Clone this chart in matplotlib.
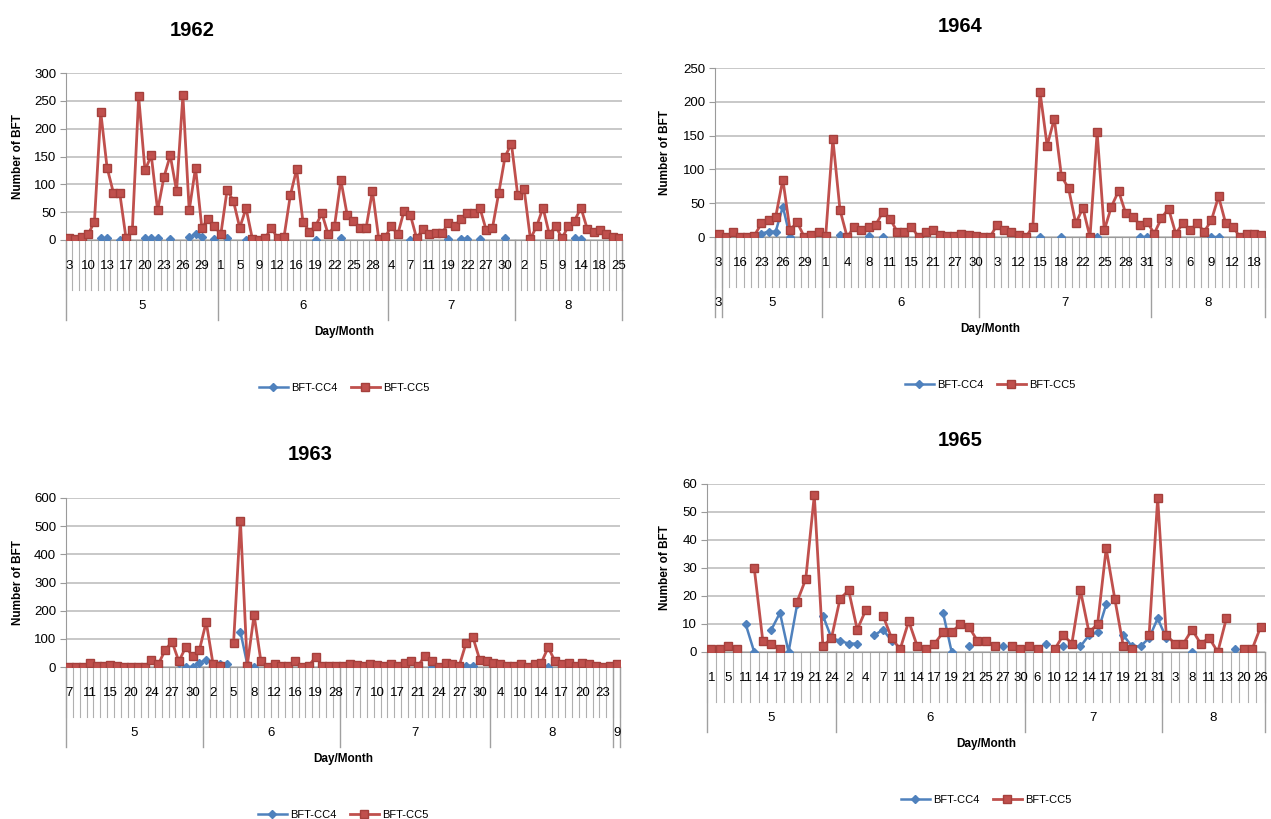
import matplotlib
matplotlib.use("Agg")
import numpy as np
import matplotlib.pyplot as plt
from matplotlib.transforms import offset_copy

nan = np.nan
W, H = 1271, 819
BLUE = '#4F81BD'
RED = '#C0504D'
GRID = '#C4C4C4'

plt.rcParams['font.family'] = ['Liberation Sans', 'DejaVu Sans']

# ---- 1962 ----
months_62 = [5, 6, 7, 8]
days_62 = [
    [3, 5, 7, 10, 11, 12, 13, 15, 16, 17, 18, 19, 20, 21, 22, 23, 24, 25, 26, 27, 28, 29, 30, 31],
    [1, 2, 4, 5, 6, 8, 9, 10, 11, 12, 14, 15, 16, 17, 18, 19, 20, 21, 22, 23, 24, 25, 26, 27, 28, 29, 30],
    [4, 5, 6, 7, 8, 9, 11, 13, 17, 19, 20, 21, 22, 24, 26, 27, 28, 29, 30, 31],
    [1, 2, 3, 4, 5, 7, 8, 9, 11, 13, 14, 16, 17, 18, 20, 22, 25],
]
cc5_62 = [3, 2, 6, 10, 33, 230, 130, 85, 85, 3, 18, 258, 125, 152, 53, 113, 152, 88, 260, 53, 130, 22, 38, 25,
          10, 90, 70, 22, 57, 2, 0, 3, 22, 3, 5, 80, 127, 33, 15, 25, 48, 10, 25, 108, 45, 35, 22, 22, 88, 2, 5,
          25, 10, 52, 45, 3, 20, 10, 12, 12, 30, 25, 38, 48, 48, 58, 18, 22, 85, 150, 173,
          80, 92, 2, 25, 58, 10, 25, 3, 25, 35, 58, 20, 15, 18, 10, 5, 3]
cc4_62 = [nan, nan, nan, nan, nan, 3, 3, nan, 0, 0, nan, nan, 3, 3, 3, nan, 1, nan, nan, 5, 10, 5, nan, 1,
          nan, 3, nan, nan, 0, nan, nan, nan, nan, nan, nan, nan, nan, nan, nan, 0, nan, nan, nan, 3, nan, nan,
          nan, nan, nan, nan, nan,
          nan, nan, nan, 0, nan, nan, nan, nan, nan, 2, nan, 2, 2, nan, 2, nan, nan, nan, 3, nan,
          nan, nan, 0, nan, nan, nan, nan, nan, nan, 3, 2, nan, nan, nan, nan, nan, nan]

# ---- 1964 ----
months_64 = [3, 5, 6, 7, 8]
days_64 = [
    [3],
    [9, 13, 16, 20, 21, 23, 24, 25, 26, 27, 28, 29, 30, 31],
    [1, 2, 3, 4, 5, 7, 8, 9, 10, 11, 12, 13, 15, 17, 19, 21, 23, 25, 27, 28, 29, 30],
    [1, 2, 3, 5, 8, 12, 13, 14, 15, 16, 17, 18, 19, 20, 22, 23, 24, 25, 26, 27, 28, 29, 30, 31],
    [1, 2, 3, 4, 5, 6, 7, 8, 9, 10, 11, 12, 14, 16, 18, 19],
]
cc5_64 = [5, 0, 7, 0, 0, 2, 20, 25, 30, 85, 10, 22, 0, 3, 7,
          2, 145, 40, 0, 15, 10, 15, 18, 37, 27, 8, 8, 15, 0, 8, 10, 3, 2, 2, 5, 3, 2,
          0, 0, 18, 10, 8, 3, 0, 15, 215, 135, 175, 90, 72, 20, 43, 0, 155, 10, 45, 68, 35, 30, 18, 22,
          5, 28, 42, 5, 20, 10, 20, 8, 25, 60, 20, 15, 0, 5, 5, 3]
cc4_64 = [5, 0, nan, nan, nan, nan, 5, 8, 8, 45, 0, nan, nan, nan, nan,
          nan, nan, 3, nan, nan, nan, 2, nan, 0, nan, nan, nan, nan, nan, nan, nan, 0, nan, nan, nan, nan, nan,
          nan, nan, nan, nan, nan, nan, nan, nan, 0, nan, nan, 0, nan, nan, nan, nan, 0, nan, nan, nan, nan, nan, 0, 0,
          nan, nan, nan, nan, nan, nan, nan, nan, 0, 0, nan, nan, 0, nan, nan, 0]

# ---- 1963 ----
months_63 = [5, 6, 7, 8, 9]
days_63 = [
    [7, 8, 10, 11, 12, 13, 15, 16, 18, 20, 21, 22, 24, 25, 26, 27, 28, 29, 30, 31],
    [1, 2, 3, 4, 5, 6, 7, 8, 10, 11, 12, 14, 15, 16, 17, 18, 19, 21, 25, 28],
    [3, 5, 7, 8, 9, 10, 12, 15, 17, 18, 20, 21, 22, 23, 24, 25, 26, 27, 28, 29, 30, 31],
    [2, 4, 6, 8, 10, 11, 12, 14, 15, 16, 17, 18, 19, 20, 21, 22, 23, 25],
    [2],
]
cc5_63 = [0, 0, 0, 15, 3, 3, 8, 5, 0, 0, 0, 0, 25, 10, 60, 90, 20, 70, 40, 60,
          160, 10, 5, nan, 85, 520, 5, 185, 20, 0, 10, 5, 5, 20, 0, 5, 35, 5, 5, 5,
          5, 10, 8, 5, 10, 8, 5, 10, 5, 15, 20, 5, 40, 20, 0, 15, 10, 5, 85, 105, 25, 20,
          15, 10, 5, 5, 10, 0, 10, 15, 70, 20, 10, 15, 5, 15, 10, 5, 0, 5,
          10]
cc4_63 = [nan, nan, nan, nan, nan, nan, nan, nan, 0, 0, nan, nan, nan, nan, nan, nan, 15, 0, 0, 15,
          25, nan, 10, 10, nan, 125, 10, 0, nan, nan, 10, nan, nan, nan, 0, nan, nan, nan, nan, nan,
          nan, nan, nan, nan, nan, nan, nan, nan, nan, nan, nan, nan, nan, 0, nan, nan, nan, nan, 5, 5, nan, nan,
          nan, nan, nan, nan, nan, nan, nan, nan, 0, nan, nan, nan, nan, nan, nan, nan, nan, nan,
          nan]

# ---- 1965 ----
months_65 = [5, 6, 7, 8]
days_65 = [
    [1, 3, 5, 8, 11, 13, 14, 16, 17, 18, 19, 20, 21, 22, 24],
    [1, 2, 3, 4, 5, 7, 9, 11, 12, 14, 15, 17, 18, 19, 20, 21, 23, 25, 26, 27, 29, 30],
    [3, 6, 9, 10, 11, 12, 13, 14, 15, 17, 18, 19, 20, 21, 24, 31],
    [1, 3, 5, 8, 10, 11, 12, 13, 16, 20, 23, 26],
]
cc5_65 = [1, 1, 2, 1, nan, 30, 4, 3, 1, nan, 18, 26, 56, 2, 5,
          19, 22, 8, 15, nan, 13, 5, 1, 11, 2, 1, 3, 7, 7, 10, 9, 4, 4, 2, nan, 2, 1,
          2, 1, nan, 1, 6, 3, 22, 7, 10, 37, 19, 2, 1, nan, 6, 55,
          6, 3, 3, 8, 3, 5, 0, 12, nan, 1, 1, 9]
cc4_65 = [nan, nan, nan, nan, 10, 0, nan, 8, 14, 0, 17, nan, nan, 13, 5,
          4, 3, 3, nan, 6, 8, 4, nan, nan, nan, nan, nan, 14, 0, nan, 2, nan, nan, nan, 2, nan, nan,
          nan, nan, 3, nan, 2, nan, 2, 6, 7, 17, nan, 6, 2, 2, 5, 12,
          5, nan, nan, 0, nan, nan, nan, nan, 1, nan, nan, nan]

fig = plt.figure(figsize=(W / 100, H / 100), dpi=100)


def px_rect(left, right, top, bottom):
    return [left / W, 1 - bottom / H, (right - left) / W, (bottom - top) / H]


def draw(rect_px, title, title_xy, ylab_x, months, days, cc4, cc5, ymax, ystep, step):
    ax = fig.add_axes(px_rect(*rect_px))
    hpx = rect_px[3] - rect_px[2]
    n = sum(len(d) for d in days)
    x = np.arange(n)
    ax.plot(x, np.array(cc4, dtype=float), color=BLUE, marker='D', ms=4.5, lw=1.8,
            label='BFT-CC4', zorder=3)
    ax.plot(x, np.array(cc5, dtype=float), color=RED, marker='s', ms=6.3, lw=2.0,
            mec='#A5403C', label='BFT-CC5', zorder=4)

    ax.set_xlim(-0.5, n - 0.5)
    ax.set_ylim(0, ymax)
    ax.set_yticks(np.arange(0, ymax + 1, ystep))
    ax.set_xticks([])
    ax.yaxis.grid(True, color=GRID, lw=1.3)
    ax.set_axisbelow(True)
    for s in ['top', 'right']:
        ax.spines[s].set_visible(False)
    for s in ['left', 'bottom']:
        ax.spines[s].set_color('#9A9A9A')
    ax.tick_params(axis='y', labelsize=9.5, length=4, color='#9A9A9A', pad=3)

    tr = ax.get_xaxis_transform()
    day_tr = offset_copy(tr, fig=fig, y=-26, units='dots')
    mon_tr = offset_copy(tr, fig=fig, y=-66, units='dots')

    # category separators (day row)
    for b in np.arange(n + 1) - 0.5:
        ax.plot([b, b], [0, -50 / hpx], transform=tr, color='#B0B0B0', lw=0.8,
                clip_on=False)
    # day labels and month blocks
    i0 = 0
    ax.plot([-0.5, -0.5], [0, -80 / hpx], transform=tr, color='#A0A0A0', lw=1.0, clip_on=False)
    for m, dl in zip(months, days):
        for k, d in enumerate(dl):
            if (i0 + k) % step == 0:
                ax.text(i0 + k, 0, str(d), transform=day_tr, ha='center', va='center',
                        fontsize=9.5)
        i1 = i0 + len(dl)
        ax.text((i0 + i1 - 1) / 2, 0, str(m), transform=mon_tr, ha='center', va='center',
                fontsize=9.5)
        ax.plot([i1 - 0.5, i1 - 0.5], [0, -80 / hpx], transform=tr, color='#A0A0A0',
                lw=1.0, clip_on=False)
        i0 = i1

    ax.text(0.5, -92 / hpx, 'Day/Month', transform=ax.transAxes, ha='center', va='center',
            fontsize=8.5, fontweight='bold')
    ax.legend(loc='center', bbox_to_anchor=(0.5, -148 / hpx), ncol=2, frameon=False,
              fontsize=8, handlelength=2.6, columnspacing=1.2, handletextpad=0.3)

    fig.text(title_xy[0] / W, 1 - title_xy[1] / H, title, ha='center', va='center',
             fontsize=14.5, fontweight='bold')
    fig.text(ylab_x / W, 1 - (rect_px[2] + rect_px[3]) / 2 / H, 'Number of BFT',
             rotation=90, ha='center', va='center', fontsize=8.5, fontweight='bold')
    return ax


draw((66, 622, 73, 240), '1962', (192, 30), 18, months_62, days_62, cc4_62, cc5_62, 300, 50, 3)
draw((715, 1265, 68, 237), '1964', (960, 27), 665, months_64, days_64, cc4_64, cc5_64, 250, 50, 3)
draw((66, 620, 498, 667), '1963', (310, 455), 18, months_63, days_63, cc4_63, cc5_63, 600, 100, 3)
draw((707, 1265, 484, 652), '1965', (960, 440), 665, months_65, days_65, cc4_65, cc5_65, 60, 10, 2)

fig.savefig('out.png', dpi=100)
